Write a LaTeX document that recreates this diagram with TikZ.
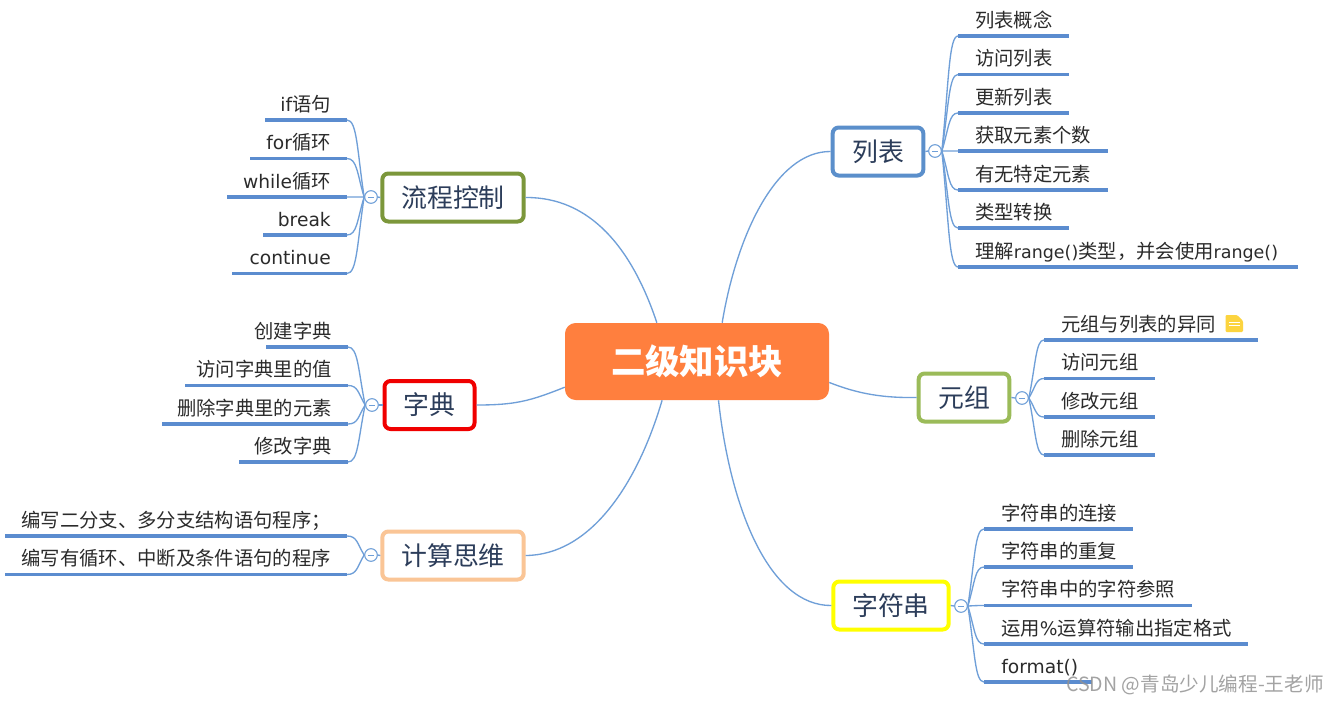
\documentclass[tikz,border=0pt]{standalone}
\usepackage{fontspec}
\setmainfont{Noto Sans CJK SC}
\newfontfamily\lat{DejaVu Sans}
\usetikzlibrary{calc}
\definecolor{linkblue}{HTML}{6F9FD8}
\definecolor{underblue}{HTML}{5B8CCF}
\definecolor{leaftext}{HTML}{2B2B2B}
\definecolor{boxtext}{HTML}{2C3D5A}
\definecolor{orangec}{HTML}{FF7F3E}
\definecolor{bblue}{HTML}{5B8FCB}
\definecolor{bgreen}{HTML}{9BBB59}
\definecolor{bolive}{HTML}{7C973B}
\definecolor{bred}{HTML}{F00000}
\definecolor{bpeach}{HTML}{FAC596}
\definecolor{byellow}{HTML}{FFFF00}
\tikzset{
  mainbox/.style={draw=#1,line width=3pt,rounded corners=4.5pt,fill=white,minimum height=36pt,inner sep=0pt,text=boxtext,font=\fontsize{19.4}{23}\selectfont},
  centerbox/.style={fill=orangec,rounded corners=8pt,minimum width=198pt,minimum height=57.75pt,inner sep=0pt,text=white,font=\fontsize{25.8}{31}\selectfont\bfseries},
  ctl/.style={circle,draw=linkblue,line width=.8pt,fill=white,minimum size=9.5pt,inner sep=0pt,
    path picture={\draw[linkblue,line width=.6pt] ($(path picture bounding box.center)+(-2pt,0)$) -- ($(path picture bounding box.center)+(2pt,0)$);}},
  link/.style={draw=linkblue,line width=1pt},
  under/.style={draw=underblue,line width=2.7pt},
  leaftxt/.style={inner sep=0pt,text=leaftext,font=\fontsize{14.5}{17}\selectfont}
}
% #1 name, #2 control, #3 x start, #4 x end, #5 y, #6 text
\newcommand{\leafR}[6]{
  \coordinate (#1-a) at (#3,#5);
  \coordinate (#1-b) at (#4,#5);
  \draw[under] (#1-a) -- (#1-b);
  \node[leaftxt,anchor=base west] (#1) at ($(#1-a)+(17,-9)$) {#6};
  \coordinate (tmpa) at ($(#2.east)+(7,0)$);
  \draw[link] (#2.east) .. controls ($(tmpa)!0.6!(tmpa |- #1-a)$) and (tmpa |- #1-a) .. (#1-a);
}
% #1 name, #2 control, #3 x left, #4 x right, #5 y, #6 text
\newcommand{\leafL}[6]{
  \coordinate (#1-a) at (#4,#5);
  \coordinate (#1-b) at (#3,#5);
  \draw[under] (#1-a) -- (#1-b);
  \node[leaftxt,anchor=base east] (#1) at ($(#1-a)+(-16,-9)$) {#6};
  \coordinate (tmpa) at ($(#2.west)+(-7,0)$);
  \draw[link] (#2.west) .. controls ($(tmpa)!0.6!(tmpa |- #1-a)$) and (tmpa |- #1-a) .. (#1-a);
}
\newcommand{\la}[1]{{\lat\fontsize{14}{17}\selectfont #1}}
\newcommand{\lb}[1]{{\lat\fontsize{13.1}{17}\selectfont #1}}
\begin{document}
\begin{tikzpicture}[x=0.75pt,y=-0.75pt]
\useasboundingbox[fill=white] (0,0) rectangle (1339,704);

\node[centerbox] (center) at (697,361.5) {二级知识块};

\node[mainbox=bblue,minimum width=68pt] (lb) at (878,151.5) {列表};
\node[mainbox=bgreen,minimum width=68pt] (yz) at (964,397.5) {元组};
\node[mainbox=byellow,minimum width=86.5pt] (zf) at (891,605.5) {字符串};
\node[mainbox=bolive,minimum width=106pt] (lc) at (453,197.5) {流程控制};
\node[mainbox=bred,minimum width=67.5pt] (zd) at (429.5,405) {字典};
\node[mainbox=bpeach,minimum width=106pt] (js) at (453,555.5) {计算思维};

\node[ctl] (clb) at (935,151) {};
\node[ctl] (cyz) at (1022,398) {};
\node[ctl] (czf) at (961,606) {};
\node[ctl] (clc) at (371,197) {};
\node[ctl] (czd) at (372,405) {};
\node[ctl] (cjs) at (371,555) {};

\draw[link] (lb.east) -- (clb.west);
\draw[link] (yz.east) -- (cyz.west);
\draw[link] (zf.east) -- (czf.west);
\draw[link] (lc.west) -- (clc.east);
\draw[link] (zd.west) -- (czd.east);
\draw[link] (js.west) -- (cjs.east);

\draw[link] (center.57) .. controls ($(center.57)+(14,-85)$) and (775,151) .. (lb.west);
\draw[link] (center.136) .. controls ($(center.136)+(-25,-75)$) and (590,197) .. (lc.east);
\draw[link] (center.191) .. controls ($(center.191)+(-35,14)$) and (515,405) .. (zd.east);
\draw[link] (center.-9.25) .. controls ($(center.-9.25)+(30,12)$) and (885,398) .. (yz.west);
\draw[link] (center.228.6) .. controls ($(center.228.6)+(-25,85)$) and (590,555) .. (js.east);
\draw[link] (center.-61.4) .. controls ($(center.-61.4)+(12,110)$) and (770,606) .. (zf.west);

\leafR{a1}{clb}{958}{1069}{36}{列表概念}
\leafR{a2}{clb}{958}{1069}{74.5}{访问列表}
\leafR{a3}{clb}{958}{1069}{113}{更新列表}
\leafR{a4}{clb}{958}{1108}{151}{获取元素个数}
\leafR{a5}{clb}{958}{1108}{190}{有无特定元素}
\leafR{a6}{clb}{958}{1069}{228}{类型转换}
\leafR{a7}{clb}{958}{1298}{267}{理解\lb{range()}类型，并会使用\lb{range()}}

\leafR{b1}{cyz}{1044}{1258}{340}{元组与列表的异同}
\leafR{b2}{cyz}{1044}{1155}{378.5}{访问元组}
\leafR{b3}{cyz}{1044}{1155}{417}{修改元组}
\leafR{b4}{cyz}{1044}{1155}{455}{删除元组}

\fill[rounded corners=.8pt,fill=yellow!60!orange!75] (1225.5,315) -- (1237,315) -- (1243,321) -- (1243,332) -- (1225.5,332) -- cycle;
\draw[white,line width=.6pt] (1229,322) -- (1240,322) (1229,325.5) -- (1240,325.5);

\leafR{c1}{czf}{984}{1133}{529}{字符串的连接}
\leafR{c2}{czf}{984}{1133}{567}{字符串的重复}
\leafR{c3}{czf}{984}{1192}{605.5}{字符串中的字符参照}
\leafR{c4}{czf}{984}{1248}{644}{运用\la{\%}运算符输出指定格式}
\leafR{c5}{czf}{984}{1092}{682}{\la{format()}}

\leafL{d1}{clc}{265}{347}{120}{\la{if}语句}
\leafL{d2}{clc}{250}{347}{158.5}{\la{for}循环}
\leafL{d3}{clc}{227}{347}{197}{\la{while}循环}
\leafL{d4}{clc}{263}{347}{235}{\la{break}}
\leafL{d5}{clc}{232}{347}{273.5}{\la{continue}}

\leafL{e1}{czd}{266}{348}{347}{创建字典}
\leafL{e2}{czd}{185}{348}{385.5}{访问字典里的值}
\leafL{e3}{czd}{162}{348}{424}{删除字典里的元素}
\leafL{e4}{czd}{239}{348}{462}{修改字典}

\leafL{f1}{cjs}{5}{347}{536}{编写二分支、多分支结构语句程序；}
\leafL{f2}{cjs}{5}{347}{574.5}{编写有循环、中断及条件语句的程序}

\node[anchor=base west,inner sep=0pt,text=gray!85,opacity=.85,font=\fontsize{14.7}{17}\selectfont] (wm) at (1066,691) {CSDN @青岛少儿编程-王老师};
\end{tikzpicture}
\end{document}
